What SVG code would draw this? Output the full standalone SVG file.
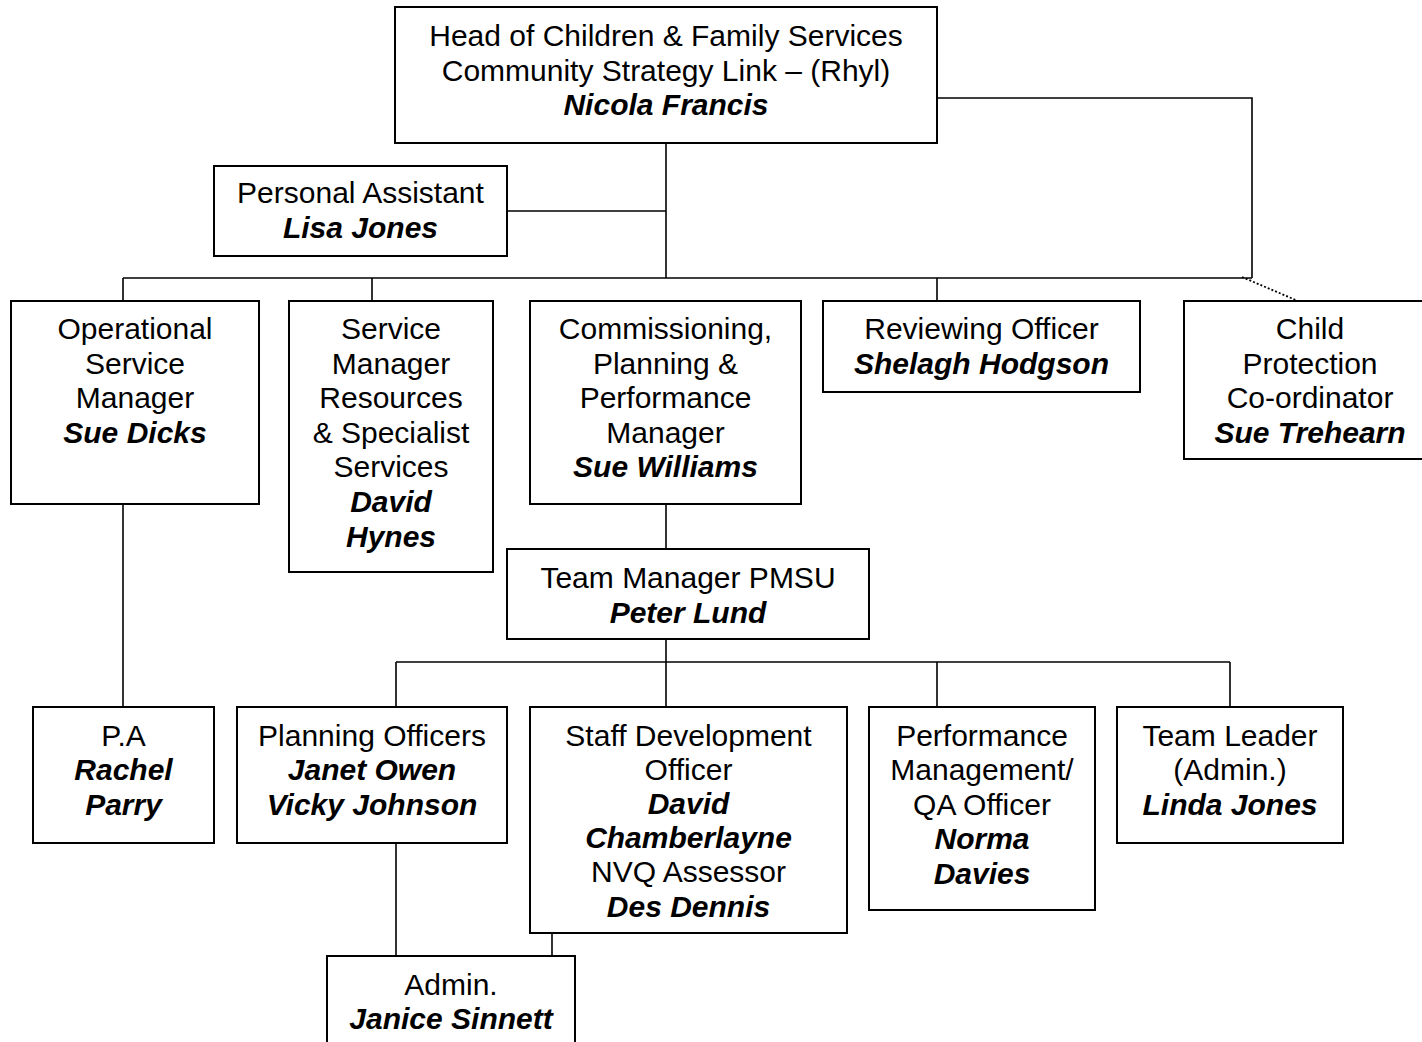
<svg xmlns="http://www.w3.org/2000/svg" width="1422" height="1042" viewBox="0 0 1422 1042">
<style>
rect.box{fill:#fff;stroke:#000;stroke-width:2}
text{font-family:"Liberation Sans",Arial,sans-serif;font-size:30px;fill:#000;text-anchor:middle}
.b{font-weight:bold;font-style:italic}
#connectors path{fill:none;stroke:#000;stroke-width:1.6}
#connectors path.dot{stroke-dasharray:2,2;stroke-width:1.8}
</style>
<rect width="1422" height="1042" fill="#fff"/>
<g id="connectors">
<path d="M666 143V278"/>
<path d="M507 211H666"/>
<path d="M937 98H1252V278"/>
<path d="M123 278H1252"/>
<path d="M123 278V301M372 278V301M937 278V301"/>
<path d="M123 504V707"/>
<path d="M666 504V549"/>
<path d="M666 639V707"/>
<path d="M396 662H1230"/>
<path d="M396 662V707M937 662V707M1230 662V707"/>
<path d="M396 843V956"/>
<path d="M552 933V956"/>
<path class="dot" d="M1242 277L1298 301"/>
</g>
<g id="head"><rect class="box" x="395" y="7" width="542" height="136"/>
<text x="666" y="46">Head of Children &amp; Family Services<tspan x="666" dy="34.5">Community Strategy Link – (Rhyl)</tspan><tspan x="666" dy="34.5" class="b">Nicola Francis</tspan></text></g>
<g id="pa"><rect class="box" x="214" y="166" width="293" height="90"/>
<text x="360.5" y="203">Personal Assistant<tspan x="360.5" dy="35" class="b">Lisa Jones</tspan></text></g>
<g id="ops"><rect class="box" x="11" y="301" width="248" height="203"/>
<text x="135" y="339">Operational<tspan x="135" dy="34.6">Service</tspan><tspan x="135" dy="34.6">Manager</tspan><tspan x="135" dy="34.6" class="b">Sue Dicks</tspan></text></g>
<g id="srm"><rect class="box" x="289" y="301" width="204" height="271"/>
<text x="391" y="339">Service<tspan x="391" dy="34.6">Manager</tspan><tspan x="391" dy="34.6">Resources</tspan><tspan x="391" dy="34.6">&amp; Specialist</tspan><tspan x="391" dy="34.6">Services</tspan><tspan x="391" dy="34.6" class="b">David</tspan><tspan x="391" dy="34.6" class="b">Hynes</tspan></text></g>
<g id="cpp"><rect class="box" x="530" y="301" width="271" height="203"/>
<text x="665.5" y="339">Commissioning,<tspan x="665.5" dy="34.6">Planning &amp;</tspan><tspan x="665.5" dy="34.6">Performance</tspan><tspan x="665.5" dy="34.6">Manager</tspan><tspan x="665.5" dy="34.6" class="b">Sue Williams</tspan></text></g>
<g id="rev"><rect class="box" x="823" y="301" width="317" height="91"/>
<text x="981.5" y="339">Reviewing Officer<tspan x="981.5" dy="34.6" class="b">Shelagh Hodgson</tspan></text></g>
<g id="cp"><rect class="box" x="1184" y="301" width="252" height="158"/>
<text x="1310" y="339">Child<tspan x="1310" dy="34.6">Protection</tspan><tspan x="1310" dy="34.6">Co-ordinator</tspan><tspan x="1310" dy="34.6" class="b">Sue Trehearn</tspan></text></g>
<g id="tm"><rect class="box" x="507" y="549" width="362" height="90"/>
<text x="688" y="587.5">Team Manager PMSU<tspan x="688" dy="35" class="b">Peter Lund</tspan></text></g>
<g id="pa2"><rect class="box" x="33" y="707" width="181" height="136"/>
<text x="123.5" y="745.5">P.A<tspan x="123.5" dy="34.6" class="b">Rachel</tspan><tspan x="123.5" dy="34.6" class="b">Parry</tspan></text></g>
<g id="po"><rect class="box" x="237" y="707" width="270" height="136"/>
<text x="372" y="745.5">Planning Officers<tspan x="372" dy="34.6" class="b">Janet Owen</tspan><tspan x="372" dy="34.6" class="b">Vicky Johnson</tspan></text></g>
<g id="sd"><rect class="box" x="530" y="707" width="317" height="226"/>
<text x="688.5" y="745.5">Staff Development<tspan x="688.5" dy="34.2">Officer</tspan><tspan x="688.5" dy="34.2" class="b">David</tspan><tspan x="688.5" dy="34.2" class="b">Chamberlayne</tspan><tspan x="688.5" dy="34.2">NVQ Assessor</tspan><tspan x="688.5" dy="34.2" class="b">Des Dennis</tspan></text></g>
<g id="perf"><rect class="box" x="869" y="707" width="226" height="203"/>
<text x="982" y="745.5">Performance<tspan x="982" dy="34.6">Management/</tspan><tspan x="982" dy="34.6">QA Officer</tspan><tspan x="982" dy="34.6" class="b">Norma</tspan><tspan x="982" dy="34.6" class="b">Davies</tspan></text></g>
<g id="tl"><rect class="box" x="1117" y="707" width="226" height="136"/>
<text x="1230" y="745.5">Team Leader<tspan x="1230" dy="34.6">(Admin.)</tspan><tspan x="1230" dy="34.6" class="b">Linda Jones</tspan></text></g>
<g id="admin"><rect class="box" x="327" y="956" width="248" height="100"/>
<text x="451" y="994.5">Admin.<tspan x="451" dy="34.6" class="b">Janice Sinnett</tspan></text></g>
</svg>
